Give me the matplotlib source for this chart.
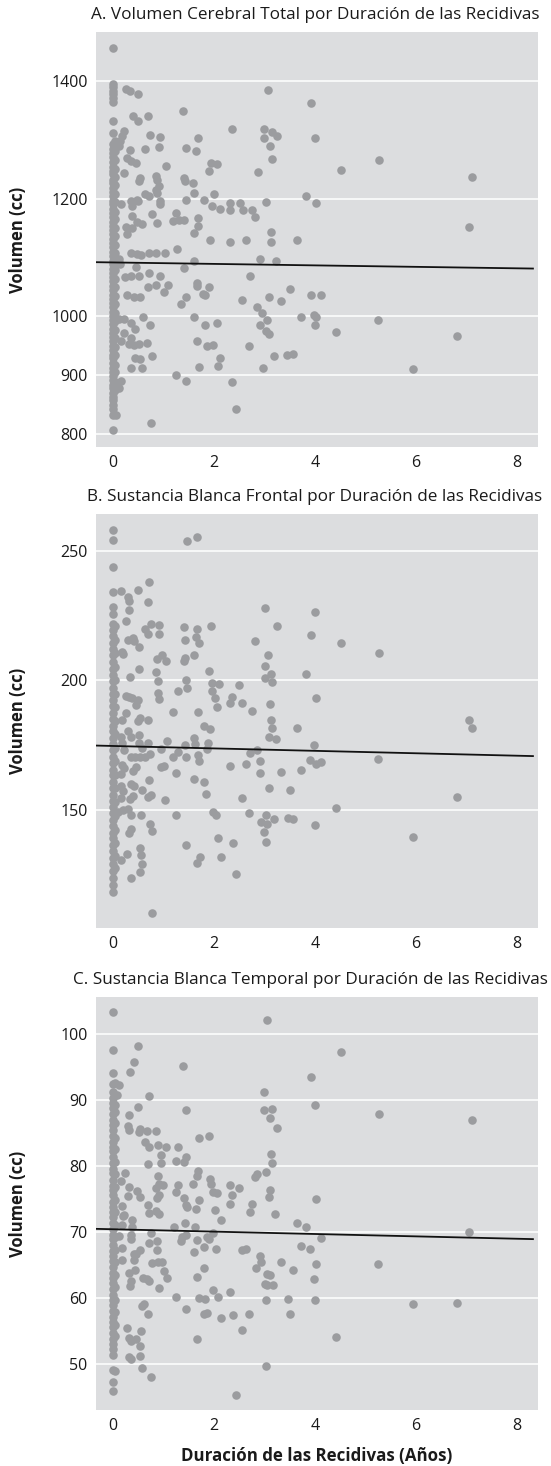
import matplotlib
matplotlib.use("Agg")
import matplotlib.pyplot as plt

plt.rcParams['font.family'] = ['Open Sans', 'DejaVu Sans']

# Panel A: volumen cerebral total (cc)
a_col0 = [1456, 1395, 1389, 1383, 1377, 1370, 1364, 1331, 1312, 1292, 1284, 1277, 1270, 1262, 1254,
          1247, 1241, 1232, 1226, 1218, 1211, 1204, 1196, 1190, 1182, 1176, 1168, 1160, 1153, 1147,
          1139, 1131, 1125, 1117, 1110, 1102, 1094, 1088, 1081, 1073, 1066, 1060, 1052, 1044, 1037,
          1030, 1022, 1016, 1008, 1001, 993, 987, 979, 972, 964, 958, 950, 943, 935, 929, 921, 913,
          906, 899, 892, 884, 878, 870, 863, 857, 849, 842, 833, 807]
a_col1 = [1297, 1281, 1265, 1251, 1236, 1223, 1207, 1194, 1178, 1165, 1150, 1137, 1121, 1108, 1092,
          1079, 1063, 1050, 1034, 1021, 1005, 992, 976, 963, 947, 934, 918, 905, 888, 875]
a_pts = [(0.27, 1386), (0.34, 1382), (0.51, 1378), (0.41, 1340), (0.51, 1331), (0.70, 1340),
         (1.40, 1348), (0.74, 1308), (0.93, 1304), (0.91, 1288), (0.65, 1284), (0.35, 1283),
         (0.47, 1260), (0.29, 1269), (0.37, 1263), (0.22, 1314), (0.19, 1306), (0.15, 1298),
         (0.12, 1290), (2.37, 1318), (1.46, 1286), (1.64, 1281), (1.69, 1303), (3.07, 1384),
         (3.00, 1319), (3.15, 1313), (3.25, 1307), (3.00, 1303), (3.11, 1290), (3.16, 1267),
         (2.87, 1245), (3.83, 1204), (1.90, 1246), (1.94, 1260), (2.07, 1259), (1.05, 1255),
         (0.85, 1239), (0.54, 1235), (0.52, 1230), (0.22, 1244), (0.87, 1232), (0.91, 1222),
         (0.85, 1215), (0.93, 1190), (0.72, 1204), (0.65, 1208), (0.87, 1210), (0.51, 1196),
         (0.37, 1196), (0.48, 1198), (0.94, 1196), (0.39, 1187), (0.16, 1190), (0.78, 1173),
         (0.39, 1170), (0.48, 1160), (0.58, 1156), (0.87, 1158), (0.26, 1152), (0.39, 1150),
         (0.29, 1140), (1.25, 1176), (1.20, 1162), (1.31, 1164), (1.42, 1164), (1.46, 1197),
         (1.41, 1235), (1.44, 1229), (1.59, 1227), (1.62, 1210), (1.80, 1198), (2.00, 1207),
         (1.97, 1187), (2.13, 1183), (2.33, 1193), (2.33, 1180), (2.52, 1192), (2.58, 1181),
         (2.76, 1180), (2.81, 1168), (3.04, 1194), (1.69, 1167), (1.69, 1154), (1.61, 1142),
         (1.92, 1130), (2.32, 1127), (2.64, 1129), (3.14, 1144), (3.14, 1127), (3.65, 1130),
         (1.28, 1114), (1.61, 1094), (1.42, 1082), (2.91, 1098), (3.23, 1094), (2.71, 1069),
         (1.03, 1108), (0.85, 1108), (0.72, 1108), (0.57, 1104), (0.36, 1108), (0.49, 1105),
         (0.12, 1097), (0.15, 1088), (0.46, 1083), (0.37, 1068), (0.24, 1066), (0.52, 1068),
         (0.72, 1074), (0.69, 1049), (0.93, 1068), (0.86, 1053), (1.09, 1053), (1.01, 1041),
         (0.29, 1037), (0.42, 1032), (0.55, 1032), (1.36, 1021), (1.46, 1032), (1.66, 1057),
         (1.67, 1052), (1.90, 1049), (1.82, 1037), (1.79, 1038), (2.56, 1028), (2.85, 1016),
         (2.96, 1006), (2.91, 985), (3.06, 993), (3.09, 1033), (3.34, 1026), (3.52, 1047),
         (3.73, 998), (1.61, 998), (1.82, 985), (2.06, 988), (1.67, 958), (1.87, 949),
         (1.99, 951), (2.13, 930), (2.08, 916), (1.71, 914), (2.70, 950), (2.98, 913),
         (3.04, 975), (3.09, 970), (3.20, 933), (3.46, 934), (3.57, 936), (2.37, 889),
         (2.45, 842), (1.25, 900), (1.46, 890), (0.76, 818), (0.60, 999), (0.74, 985),
         (0.36, 989), (0.45, 979), (0.12, 995), (0.22, 996), (0.22, 972), (0.32, 953),
         (0.36, 963), (0.16, 958), (0.52, 953), (0.68, 955), (0.43, 951), (0.45, 930),
         (0.58, 913), (0.54, 927), (0.77, 933), (0.36, 913), (0.16, 890), (0.12, 879),
         (0.06, 833),
         (3.93, 1362), (4.01, 1303), (5.28, 1266), (4.52, 1249), (7.11, 1237), (4.03, 1192),
         (7.05, 1151), (3.93, 1036), (4.13, 1037), (3.98, 1003), (4.03, 999), (4.01, 986),
         (5.25, 994), (4.42, 973), (6.82, 967), (5.94, 911)]
a_fit = (1091.5, -1.25)  # intercepto, pendiente

# Panel B: sustancia blanca frontal (cc)
b_col0 = [258.3, 254.3, 243.7, 234.1, 228.3, 225.7, 221.9, 219.4, 217.1, 214.3, 212.0, 209.7, 207.0,
          204.6, 202.1, 199.9, 197.2, 194.8, 192.5, 190.1, 187.5, 185.2, 182.6, 180.4, 177.9, 175.3,
          173.1, 170.4, 168.2, 165.6, 163.3, 160.7, 158.5, 155.8, 153.6, 151.0, 148.7, 146.1, 143.9,
          141.2, 139.0, 136.4, 134.1, 131.5, 129.1, 126.3, 123.8, 121.0, 118.3]
b_col1 = [221.0, 215.7, 210.6, 205.2, 200.2, 194.7, 189.7, 184.3, 179.2, 173.8, 168.8, 163.3, 158.3,
          152.9, 147.8, 142.4, 137.3, 132.1, 127.4]
b_pts = [(0.16, 234.5), (0.31, 232.4), (0.33, 230.6), (0.51, 234.9), (0.72, 238.0), (0.69, 230.2),
         (0.32, 227.3), (0.27, 222.9), (1.48, 253.7), (1.67, 255.6), (0.75, 221.9), (0.65, 220.0),
         (0.70, 218.0), (0.92, 221.4), (0.92, 217.8), (0.30, 215.6), (0.40, 216.4), (0.42, 215.4),
         (0.53, 213.1), (0.19, 211.1), (0.20, 210.4), (0.53, 204.5), (0.35, 201.3), (0.87, 208.1),
         (0.97, 210.0), (1.05, 207.7), (0.86, 203.2), (0.90, 199.8), (0.90, 195.0), (0.91, 192.7),
         (1.41, 220.8), (1.43, 215.6), (1.64, 216.7), (1.67, 220.0), (1.70, 214.4), (1.62, 210.0),
         (1.41, 207.5), (1.43, 208.6), (1.45, 200.0), (1.48, 196.9), (1.29, 196.0), (1.20, 187.8),
         (1.69, 187.8), (1.80, 182.6), (1.92, 181.3), (1.94, 221.2), (1.90, 203.5), (1.97, 199.0),
         (1.97, 195.8), (2.02, 193.3), (2.06, 189.8), (2.11, 198.5), (2.32, 191.3), (2.36, 193.5),
         (2.56, 191.3), (2.51, 198.4), (2.76, 188.2), (2.81, 215.2), (3.01, 228.0), (3.07, 209.8),
         (3.02, 205.5), (3.02, 200.8), (3.13, 202.5), (3.16, 199.5), (3.11, 191.1), (3.14, 184.7),
         (3.15, 181.5), (3.10, 178.1), (3.24, 177.4), (3.25, 221.2), (3.65, 181.5), (3.83, 202.5),
         (3.33, 164.5), (3.52, 157.8), (3.72, 165.4), (3.90, 169.1), (1.20, 170.4), (1.29, 172.4),
         (1.43, 175.1), (1.45, 170.4), (1.62, 177.9), (1.63, 175.3), (1.68, 171.1), (1.70, 168.8),
         (1.87, 173.7), (1.89, 175.9), (0.95, 173.6), (1.08, 176.6), (1.25, 164.2), (1.03, 153.7),
         (0.95, 166.7), (1.01, 167.0), (0.72, 161.7), (0.70, 154.9), (0.76, 155.6), (0.74, 144.5),
         (0.78, 142.0), (0.57, 147.9), (1.25, 147.9), (1.46, 136.6), (1.67, 129.5), (1.72, 132.0),
         (1.80, 160.7), (1.84, 156.2), (1.61, 162.0), (1.99, 149.2), (2.04, 147.9), (2.09, 139.3),
         (2.14, 131.8), (2.38, 137.3), (2.45, 125.4), (2.56, 154.6), (2.64, 167.8), (2.70, 149.0),
         (2.32, 167.1), (2.71, 171.8), (2.86, 173.0), (2.91, 168.9), (2.91, 164.2), (3.09, 158.4),
         (2.94, 145.2), (2.99, 141.6), (3.04, 147.9), (3.06, 144.6), (3.04, 137.6), (3.20, 146.3),
         (3.48, 146.7), (3.57, 146.3), (0.78, 110.2), (0.29, 133.1), (0.16, 130.5), (0.37, 123.8),
         (0.55, 135.1), (0.57, 132.6), (0.58, 129.1), (0.55, 126.2), (0.36, 142.6), (0.32, 140.9),
         (0.37, 147.9), (0.20, 149.9), (0.30, 150.5), (0.11, 149.2), (0.27, 194.1), (0.32, 193.8),
         (0.39, 193.2), (0.50, 192.6), (0.47, 190.6), (0.50, 184.2), (0.55, 185.5), (0.69, 184.8),
         (0.30, 180.5), (0.36, 178.3), (0.53, 179.0), (0.53, 176.0), (0.70, 175.8), (0.58, 173.8),
         (0.65, 170.6), (0.74, 171.6), (0.37, 170.4), (0.45, 170.4), (0.54, 170.4), (0.47, 166.7),
         (0.41, 165.2), (0.37, 160.2), (0.43, 159.3), (0.41, 155.4), (0.34, 154.1), (0.59, 157.6),
         (0.16, 159.3), (0.21, 157.4), (0.16, 154.5), (0.19, 167.4), (0.22, 166.1), (0.16, 163.8),
         (0.16, 178.3), (0.18, 175.8), (0.22, 173.1), (0.18, 184.8), (0.26, 187.4),
         (4.01, 226.6), (3.93, 217.4), (4.52, 214.4), (5.28, 210.7), (4.03, 193.2), (7.05, 184.8),
         (7.11, 181.5), (3.98, 174.9), (4.03, 167.8), (4.13, 168.5), (5.25, 169.5), (4.42, 150.6),
         (4.01, 144.0), (6.82, 155.0), (5.94, 139.6)]
b_fit = (174.7, -0.47)

# Panel C: sustancia blanca temporal (cc)
c_col0 = [103.4, 97.5, 94.1, 92.4, 91.2, 90.3, 89.6, 88.8, 87.9, 87.0, 86.2, 85.5, 84.6, 83.7, 82.9,
          82.2, 81.3, 80.4, 79.6, 78.9, 77.9, 77.0, 76.3, 75.6, 74.6, 73.7, 73.0, 72.2, 71.3, 70.4,
          69.6, 68.9, 68.0, 67.1, 66.3, 65.6, 64.7, 63.8, 63.0, 62.3, 61.3, 60.4, 59.7, 58.9, 58.0,
          57.1, 56.4, 55.6, 54.7, 53.8, 53.0, 52.3, 51.4, 49.0, 47.2, 45.9]
c_col1 = [92.6, 89.2, 88.1, 86.5, 84.3, 82.5, 80.6, 78.7, 76.8, 74.9, 73.0, 71.1, 69.2, 67.3, 65.4,
          63.5, 61.6, 59.7, 57.8, 55.9, 54.2, 48.9]
c_pts = [(3.06, 102.1), (0.51, 98.2), (0.43, 95.7), (0.35, 94.3), (1.40, 95.2), (0.12, 92.2),
         (0.08, 90.8), (0.33, 87.7), (0.30, 86.0), (0.32, 85.5), (0.51, 89.0), (0.72, 90.6),
         (1.46, 88.4), (3.00, 91.2), (3.00, 88.5), (3.16, 88.6), (3.11, 87.2), (3.25, 85.8),
         (3.14, 81.8), (3.15, 80.5), (3.10, 75.3), (3.12, 63.4), (3.06, 61.9), (3.04, 49.7),
         (0.55, 85.6), (0.52, 85.1), (0.68, 85.3), (0.86, 85.3), (0.65, 83.7), (0.72, 82.9),
         (0.70, 80.3), (0.90, 83.1), (0.96, 81.6), (1.05, 82.8), (1.29, 82.9), (1.46, 81.3),
         (1.42, 80.6), (1.71, 84.2), (1.90, 84.6), (1.68, 79.3), (1.67, 78.5), (1.60, 77.3),
         (1.71, 74.8), (1.65, 73.5), (1.63, 70.8), (1.93, 78.0), (1.94, 77.3), (1.98, 76.0),
         (2.07, 75.9), (2.02, 73.3), (2.14, 71.8), (2.32, 77.1), (2.36, 75.6), (2.32, 74.2),
         (2.51, 76.6), (2.76, 74.2), (2.71, 73.0), (2.81, 78.3), (2.86, 78.8), (3.04, 79.1),
         (3.11, 76.4), (3.22, 72.7), (3.65, 71.4), (3.83, 70.7), (3.72, 67.8), (3.90, 67.4),
         (1.25, 80.7), (1.29, 77.1), (1.25, 76.1), (1.42, 75.1), (1.46, 74.1), (1.48, 73.8),
         (1.22, 70.7), (1.43, 71.3), (1.38, 69.2), (1.36, 68.6), (1.46, 69.5), (1.61, 66.9),
         (1.67, 68.8), (1.80, 67.7), (1.87, 69.2), (1.91, 68.9), (1.99, 69.9), (2.04, 67.4),
         (1.80, 64.6), (1.67, 63.2), (1.71, 60.0), (1.82, 59.8), (1.87, 57.7), (1.80, 57.5),
         (1.67, 53.8), (1.99, 61.2), (2.09, 60.2), (2.14, 56.9), (2.32, 60.9), (2.38, 57.4),
         (2.56, 55.1), (2.70, 57.5), (2.57, 67.2), (2.64, 67.4), (2.83, 64.6), (2.91, 66.3),
         (2.94, 65.5), (3.06, 63.6), (3.01, 62.1), (3.04, 59.7), (3.18, 61.9), (3.33, 65.5),
         (3.57, 64.2), (3.48, 59.9), (3.52, 57.5), (1.25, 60.2), (1.46, 58.3), (2.45, 45.3),
         (0.70, 57.6), (0.57, 54.9), (0.55, 51.2), (0.58, 49.3), (0.76, 48.0), (0.28, 55.5),
         (0.33, 53.9), (0.37, 53.4), (0.47, 53.7), (0.55, 52.7), (0.32, 51.0), (0.37, 50.8),
         (0.59, 58.8), (0.63, 59.1), (0.72, 62.5), (0.68, 62.9), (0.91, 61.5), (0.89, 65.5),
         (0.98, 65.5), (1.01, 64.1), (1.08, 63.0), (0.78, 65.3), (0.87, 67.3), (0.60, 63.0),
         (0.45, 64.2), (0.37, 62.5), (0.32, 63.7), (0.35, 61.8), (0.47, 66.7), (0.55, 67.2),
         (0.43, 65.7), (0.37, 68.9), (0.43, 66.6), (0.18, 65.7), (0.70, 74.1), (0.72, 72.8),
         (0.86, 73.1), (0.91, 72.7), (0.87, 68.6), (0.72, 68.3), (0.75, 69.9), (0.96, 80.4),
         (0.90, 78.4), (0.91, 77.3), (0.91, 75.6), (0.88, 75.1), (1.00, 77.1), (0.86, 76.7),
         (0.48, 76.2), (0.55, 75.3), (0.30, 75.4), (0.33, 76.8), (0.24, 79.0), (0.16, 77.7),
         (0.18, 73.9), (0.20, 72.4), (0.18, 71.1), (0.22, 72.6), (0.12, 69.4), (0.19, 67.6),
         (0.37, 69.6), (0.39, 70.8), (0.39, 71.8),
         (3.93, 93.5), (4.52, 97.2), (4.01, 89.3), (5.28, 87.8), (7.11, 87.0), (4.02, 75.0),
         (4.12, 69.0), (7.05, 70.0), (4.02, 65.1), (5.25, 65.2), (3.98, 62.9), (4.00, 59.7),
         (5.94, 59.0), (6.82, 59.2), (4.42, 54.0)]
c_fit = (70.4, -0.18)

titulos = ["A. Volumen Cerebral Total por Duración de las Recidivas",
           "B. Sustancia Blanca Frontal por Duración de las Recidivas",
           "C. Sustancia Blanca Temporal por Duración de las Recidivas"]
y_ticks = [[800, 900, 1000, 1200, 1400], [150, 200, 250], [50, 60, 70, 80, 90, 100]]
y_lims = [(778, 1483), (104.4, 264.3), (43.0, 105.6)]
x_ticks = [0, 2, 4, 6, 8]

bg = "#dcdddf"
pt_col = "#9b9c9f"

fig = plt.figure(figsize=(5.51, 14.66), dpi=100)
rects = [[0.1742, 0.6951, 0.8022, 0.2831],
         [0.1742, 0.3670, 0.8022, 0.2824],
         [0.1742, 0.0382, 0.8022, 0.2817]]
# posicion del titulo (x en coordenadas de ejes, alineacion)
title_pos = [(0.4955, "center"), (0.4955, "center"), (1.022, "right")]

panels = [(a_col0, a_col1, a_pts, a_fit), (b_col0, b_col1, b_pts, b_fit), (c_col0, c_col1, c_pts, c_fit)]

for i, (col0, col1, pts, fit) in enumerate(panels):
    ax = fig.add_axes(rects[i])
    ax.set_facecolor(bg)
    for s in ax.spines.values():
        s.set_visible(False)
    ax.set_xlim(-0.33, 8.42)
    ax.set_ylim(*y_lims[i])
    ax.set_yticks(y_ticks[i])
    ax.set_xticks(x_ticks)
    ax.grid(axis="y", color="white", linewidth=1.1)
    ax.set_axisbelow(True)
    ax.tick_params(length=0, labelsize=11.5, colors="#1a1a1a", pad=6)

    px, py = zip(*pts)
    ax.scatter([0.0] * len(col0), col0, s=38, color=pt_col, linewidths=0, zorder=2)
    ax.scatter([0.05] * len(col1), col1, s=38, color=pt_col, linewidths=0, zorder=2)
    ax.scatter(px, py, s=38, color=pt_col, linewidths=0, zorder=2)

    b0, b1 = fit
    xs = [-0.33, 8.32]
    ax.plot(xs, [b0 + b1 * v for v in xs], color="#111111", linewidth=1.3, zorder=3)

    tx, ha = title_pos[i]
    ax.text(tx, 1.0 + 17 / 415, titulos[i], transform=ax.transAxes, ha=ha, va="center",
            fontsize=12.3, color="#1a1a1a")
    ax.set_ylabel("Volumen (cc)", fontsize=12, fontweight="bold", color="#1a1a1a")
    ax.yaxis.set_label_coords(-0.156, 0.5)
    if i == 2:
        ax.set_xlabel("Duración de las Recidivas (Años)", fontsize=12.2, fontweight="bold",
                      color="#1a1a1a", labelpad=9)

fig.savefig("out.png", dpi=100)
